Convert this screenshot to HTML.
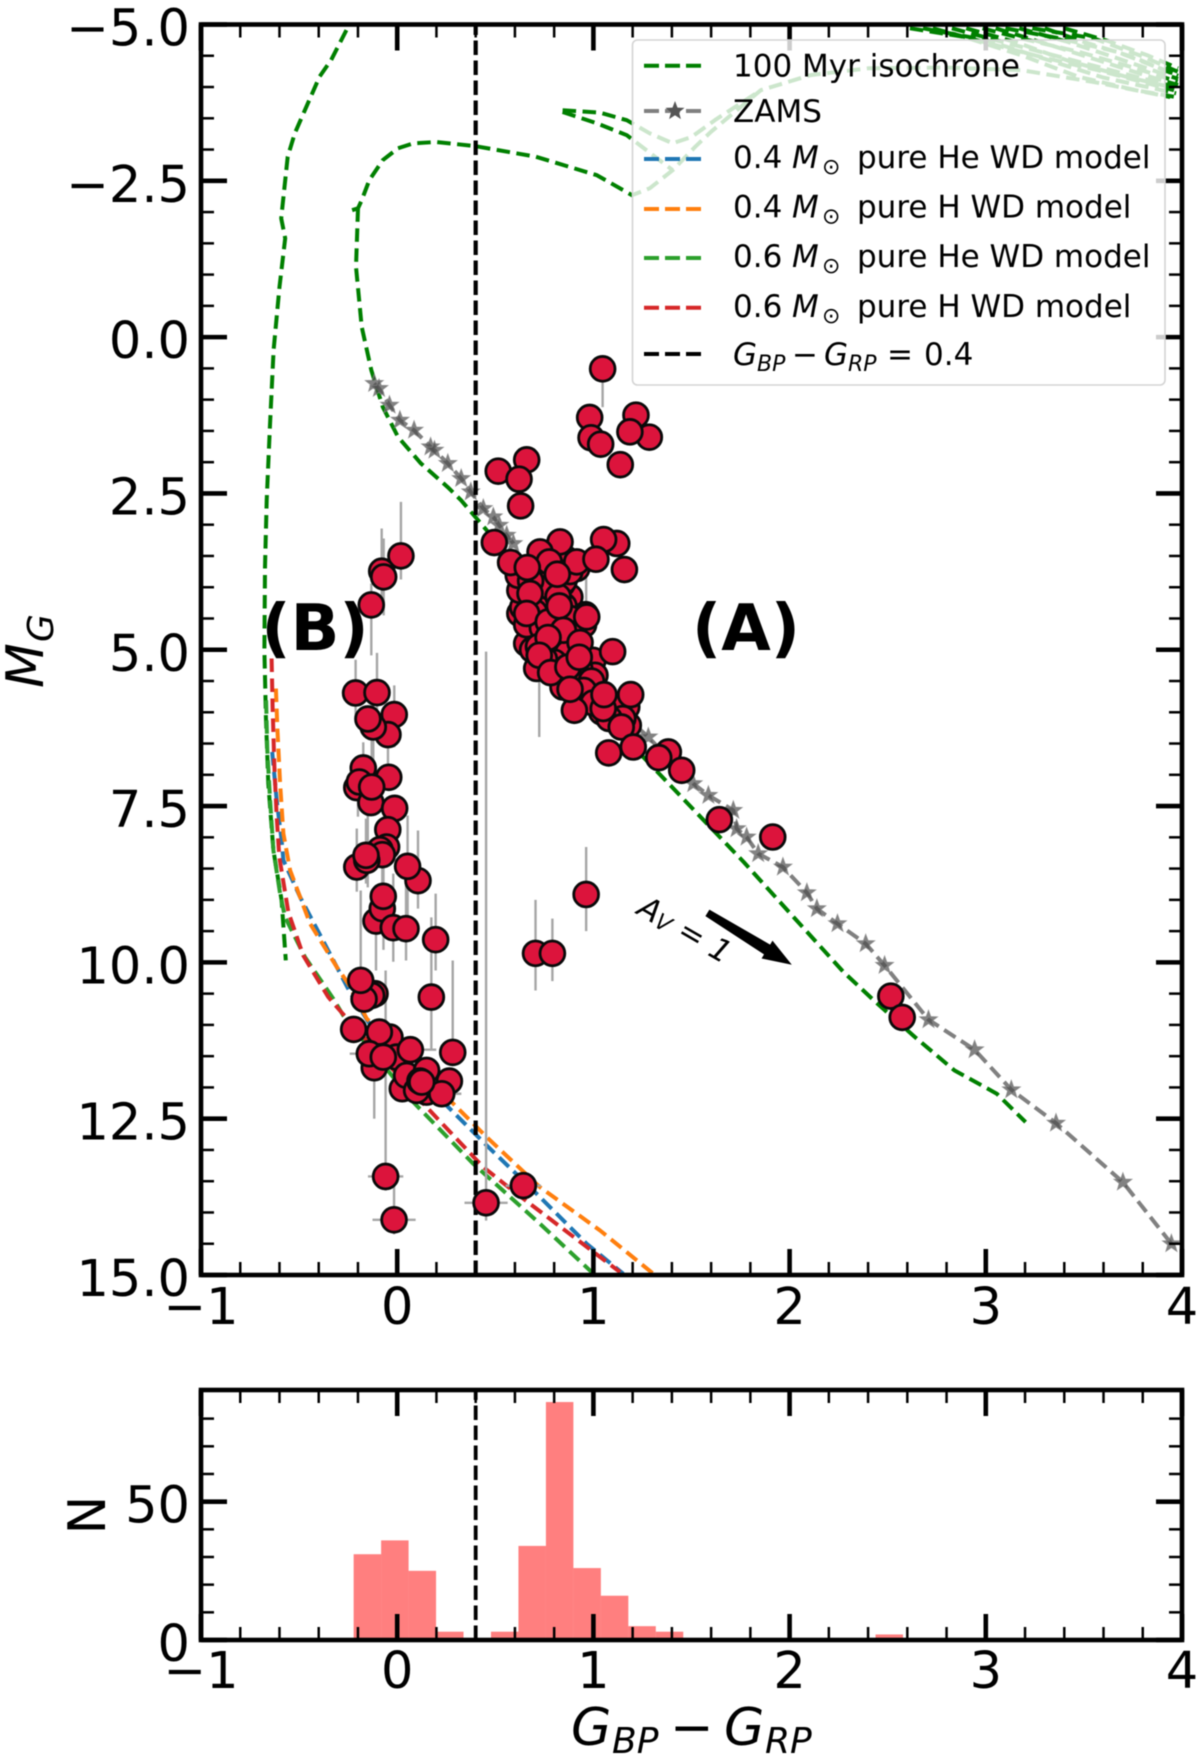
<!DOCTYPE html>
<html lang="en">
<head>
<meta charset="utf-8">
<title>Colour-magnitude diagram</title>
<style>
html,body{margin:0;padding:0;background:#fff;}
svg{display:block;filter:blur(0.6px);font-family:"DejaVu Sans","Liberation Sans",sans-serif;}
.obl{font-style:italic;}
</style>
</head>
<body>
<svg id="chart" xmlns="http://www.w3.org/2000/svg" width="1200" height="1764" viewBox="0 0 1200 1764">
  <defs>
    <clipPath id="main-clip"><rect x="201" y="24.5" width="981" height="1250.5"/></clipPath>
    <clipPath id="hist-clip"><rect x="201" y="1390" width="981" height="250"/></clipPath>
  </defs>
  <rect x="0" y="0" width="1200" height="1764" fill="#fff"/>
  <g id="main-lines" clip-path="url(#main-clip)"></g>
  <g id="main-errors" clip-path="url(#main-clip)"></g>
  <g id="main-points" clip-path="url(#main-clip)"></g>
  <g id="main-axes"></g>
  <g id="hist-bars" clip-path="url(#hist-clip)"></g>
  <g id="hist-axes"></g>

  <text x="746" y="650" font-size="64" font-weight="bold" text-anchor="middle">(A)</text>
  <text x="315" y="650" font-size="64" font-weight="bold" text-anchor="middle">(B)</text>
  <polygon id="av-arrow" fill="#000"/>
  <text transform="translate(684,931) rotate(30)" font-size="31" text-anchor="middle" dominant-baseline="middle"><tspan class="obl">A</tspan><tspan class="obl" font-size="22" dy="5">V</tspan><tspan dy="-5"> = </tspan><tspan class="obl">1</tspan></text>

  <text transform="translate(43,688) rotate(-90)" font-size="52"><tspan class="obl">M</tspan><tspan class="obl" font-size="36" x="46" dy="10">G</tspan></text>
  <text transform="translate(105,1515) rotate(-90)" font-size="52" text-anchor="middle">N</text>
  <text y="1745" font-size="52"><tspan class="obl" x="571">G</tspan><tspan class="obl" font-size="36" x="612" dy="8">BP</tspan><tspan x="670" dy="-8">−</tspan><tspan class="obl" x="724">G</tspan><tspan class="obl" font-size="36" x="765" dy="8">RP</tspan></text>

  <g>
    <rect x="632.5" y="40" width="532.5" height="345" rx="5" ry="5" fill="#fff" fill-opacity="0.8" stroke="#d4d4d4" stroke-width="1.6"/>
    <g>
      <line x1="644" x2="707" y1="65.7" y2="65.7" stroke="#008000" stroke-width="4" stroke-dasharray="15 6"/>
      <text x="733" y="76.5" font-size="31">100 Myr isochrone</text>
    </g>
    <g>
      <line x1="644" x2="707" y1="111" y2="111" stroke="#808080" stroke-width="4" stroke-dasharray="15 6"/>
      <polygon id="legend-star" fill="#555"/>
      <text x="733" y="122" font-size="31">ZAMS</text>
    </g>
    <g>
      <line x1="644" x2="707" y1="159" y2="159" stroke="#1f77b4" stroke-width="4" stroke-dasharray="15 6"/>
      <text y="168" font-size="31"><tspan x="733">0.4</tspan><tspan class="obl" x="792">M</tspan><tspan font-size="22" x="822" dy="6">⊙</tspan><tspan x="857" dy="-6">pure He WD model</tspan></text>
    </g>
    <g>
      <line x1="644" x2="707" y1="209" y2="209" stroke="#ff7f0e" stroke-width="4" stroke-dasharray="15 6"/>
      <text y="217.5" font-size="31"><tspan x="733">0.4</tspan><tspan class="obl" x="792">M</tspan><tspan font-size="22" x="822" dy="6">⊙</tspan><tspan x="857" dy="-6">pure H WD model</tspan></text>
    </g>
    <g>
      <line x1="644" x2="707" y1="258" y2="258" stroke="#2ca02c" stroke-width="4" stroke-dasharray="15 6"/>
      <text y="267" font-size="31"><tspan x="733">0.6</tspan><tspan class="obl" x="792">M</tspan><tspan font-size="22" x="822" dy="6">⊙</tspan><tspan x="857" dy="-6">pure He WD model</tspan></text>
    </g>
    <g>
      <line x1="644" x2="707" y1="307.7" y2="307.7" stroke="#d62728" stroke-width="4" stroke-dasharray="15 6"/>
      <text y="317" font-size="31"><tspan x="733">0.6</tspan><tspan class="obl" x="792">M</tspan><tspan font-size="22" x="822" dy="6">⊙</tspan><tspan x="857" dy="-6">pure H WD model</tspan></text>
    </g>
    <g>
      <line x1="644" x2="707" y1="354" y2="354" stroke="#000" stroke-width="4" stroke-dasharray="15 6"/>
      <text y="365" font-size="31"><tspan class="obl" x="733">G</tspan><tspan class="obl" font-size="22" x="757" dy="6">BP</tspan><tspan x="792" dy="-6">−</tspan><tspan class="obl" x="824">G</tspan><tspan class="obl" font-size="22" x="848" dy="6">RP</tspan><tspan x="887" dy="-6">=</tspan><tspan x="924">0.4</tspan></text>
    </g>
  </g>
</svg>
<script>
// ---------- axis tick data ----------
const xTicks = [-1, 0, 1, 2, 3, 4];
const xTickLabels = ['−1', '0', '1', '2', '3', '4'];
const xMinorTicks = [-0.8,-0.6,-0.4,-0.2,0.2,0.4,0.6,0.8,1.2,1.4,1.6,1.8,2.2,2.4,2.6,2.8,3.2,3.4,3.6,3.8];
const yTicks = [-5, -2.5, 0, 2.5, 5, 7.5, 10, 12.5, 15];
const yTickLabels = ['−5.0', '−2.5', '0.0', '2.5', '5.0', '7.5', '10.0', '12.5', '15.0'];
const yMinorTicks = [-4.5,-4,-3.5,-3,-2,-1.5,-1,-0.5,0.5,1,1.5,2,3,3.5,4,4.5,5.5,6,6.5,7,8,8.5,9,9.5,10.5,11,11.5,12,13,13.5,14,14.5];
const histYTicks = [0, 50];
const histYTickLabels = ['0', '50'];
const histYMinorTicks = [10, 20, 30, 40, 60, 70, 80];

// ---------- histogram data ----------
const histBinStarts = [-0.222,-0.082,0.058,0.198,0.338,0.478,0.618,0.758,0.898,1.038,1.178,1.318,2.438];
const histBinWidth = 0.14;
const histCounts = [31,36,25,3,0,3,34,86,26,16,5,3,2];

// ---------- colour cut ----------
const colourCut = 0.4;

// ---------- isochrone (100 Myr) pieces ----------
const isoLeftBranch = [[-0.259,-4.91],[-0.337,-4.43],[-0.396,-4.165],[-0.522,-3.26],[-0.558,-2.885],[-0.591,-1.9],[-0.571,-1.58],[-0.6,-0.805],[-0.63,0.208],[-0.649,1.435],[-0.665,2.608],[-0.674,3.675],[-0.677,5.008],[-0.669,6.075],[-0.657,7.14],[-0.631,8.208],[-0.589,9.008],[-0.568,9.968]];
const isoGiantBranch = [[-0.23,-2.03],[-0.2,-2.06],[-0.181,-2.19],[-0.142,-2.51],[-0.074,-2.83],[0.004,-3.02],[0.082,-3.1],[0.199,-3.12],[0.394,-3.056],[0.706,-2.885],[1.018,-2.59],[1.197,-2.27],[1.287,-2.38],[1.404,-2.67],[1.521,-3.05],[1.6,-3.285],[1.853,-3.95],[2.107,-4.19],[2.4,-4.3],[2.8,-4.31],[3.18,-4.27],[3.55,-4.08],[3.94,-3.84]];
const isoMainSequence = [[-0.2,-2.06],[-0.21,-1.125],[-0.181,-0.165],[-0.132,0.528],[-0.074,1.115],[0.004,1.595],[0.121,2.02],[0.258,2.4],[0.325,2.608],[0.456,3.09],[0.6,3.7],[0.75,4.5],[0.9,5.3],[1.05,6.0],[1.254,6.715],[1.766,8.395],[2.02,9.275],[2.275,10.155],[2.439,10.635],[2.639,11.195],[2.84,11.728],[3.056,12.1],[3.203,12.555]];
const isoHookUpper = [[0.843,-3.63],[1.034,-3.59],[1.17,-3.47],[1.287,-3.26],[1.404,-3.1],[1.5,-3.2],[1.619,-3.47],[1.853,-3.95]];
const isoHookLower = [[0.843,-3.6],[1.018,-3.42],[1.17,-3.23],[1.287,-2.95],[1.404,-2.67]];
const isoBundle1 = [[2.613,-4.94],[2.886,-4.805],[3.179,-4.51],[3.471,-4.165],[3.764,-3.95],[3.959,-3.845]];
const isoBundle2 = [[2.73,-4.94],[2.983,-4.725],[3.276,-4.485],[3.569,-4.27],[3.959,-3.95]];
const isoBundle3 = [[2.827,-4.94],[3.081,-4.725],[3.374,-4.485],[3.666,-4.245],[3.959,-4.005]];
const isoBundle4 = [[2.983,-4.94],[3.217,-4.75],[3.471,-4.565],[3.764,-4.3],[3.978,-4.085]];
const isoBundle5 = [[3.1,-4.94],[3.374,-4.78],[3.666,-4.565],[3.978,-4.19]];
const isoBundle6 = [[3.237,-4.94],[3.549,-4.78],[3.803,-4.485],[3.978,-4.245]];
const isoBundle7 = [[2.68,-4.94],[3.0,-4.75],[3.3,-4.45],[3.6,-4.15],[3.97,-3.9]];
const isoBundle8 = [[2.9,-4.94],[3.15,-4.72],[3.42,-4.42],[3.72,-4.16],[3.97,-3.98]];
const isoBundle9 = [[3.05,-4.94],[3.3,-4.7],[3.55,-4.45],[3.8,-4.2],[3.98,-4.03]];
const isoBundle10 = [[3.17,-4.94],[3.42,-4.72],[3.68,-4.45],[3.98,-4.13]];
const isoBundle11 = [[3.3,-4.94],[3.5,-4.72],[3.75,-4.48],[3.98,-4.18]];
const isoBundle12 = [[3.4,-4.94],[3.62,-4.74],[3.83,-4.5],[3.98,-4.3]];

// ---------- white-dwarf cooling models ----------
const wd06H = [[-0.64,5.14],[-0.635,5.915],[-0.626,6.875],[-0.614,7.675],[-0.601,8.315],[-0.555,9.195],[-0.479,9.888],[-0.351,10.555],[-0.292,10.77],[0.15,12.315],[0.439,13.275],[0.609,13.7],[1.136,14.955]];
const wd06He = [[-0.668,5.808],[-0.662,6.608],[-0.648,7.408],[-0.631,8.208],[-0.597,8.901],[-0.572,9.275],[-0.47,9.915],[-0.326,10.58],[-0.275,10.848],[0.082,12.235],[0.388,13.221],[0.728,14.181],[1.0,14.98]];
const wd04H = [[-0.618,5.621],[-0.611,6.235],[-0.597,7.141],[-0.58,7.941],[-0.546,8.528],[-0.444,9.381],[-0.308,10.075],[-0.249,10.341],[-0.155,10.901],[0.286,12.261],[0.456,12.795],[0.728,13.595],[1.034,14.288],[1.305,14.98]];
const wd04He = [[-0.637,6.635],[-0.614,7.408],[-0.589,8.048],[-0.58,8.368],[-0.495,8.955],[-0.343,9.861],[-0.241,10.475],[-0.147,10.955],[0.26,12.315],[0.456,12.928],[0.694,13.648],[0.966,14.501],[1.152,14.98]];

// ---------- ZAMS ----------
const zamsPoints = [[-0.117,0.741],[-0.093,0.821],[-0.039,1.088],[0.014,1.328],[0.086,1.488],[0.17,1.755],[0.19,1.808],[0.258,2.02],[0.326,2.261],[0.375,2.475],[0.439,2.741],[0.49,2.875],[0.52,3.008],[0.558,3.168],[0.592,3.301],[0.7,4.3],[0.85,5.0],[1.017,5.78],[1.14,6.0],[1.28,6.395],[1.509,7.141],[1.586,7.328],[1.713,7.568],[1.73,7.861],[1.781,7.995],[1.84,8.261],[1.966,8.475],[2.088,8.886],[2.139,9.141],[2.244,9.381],[2.388,9.701],[2.484,10.048],[2.708,10.917],[2.943,11.397],[3.13,12.037],[3.358,12.571],[3.699,13.515],[3.946,14.5]];

// ---------- error bars: [x, yTop, yBottom] ----------
const verticalErrors = [[1.047,0.507,1.12],[0.963,3.4,4.25],[0.724,4.2,6.395],[0.963,8.155,9.5],[0.705,9.0,10.45],[0.791,9.3,10.3],[0.019,2.635,3.877],[-0.079,3.06,4.4],[-0.069,3.22,4.45],[-0.132,3.94,5.09],[-0.212,5.16,6.07],[-0.103,5.05,6.34],[-0.015,5.57,6.56],[-0.047,6.02,6.82],[-0.122,5.8,7.0],[-0.173,6.48,7.3],[-0.13,6.45,7.57],[-0.2,6.8,7.67],[-0.206,7.86,8.87],[-0.159,7.7,8.74],[-0.15,7.65,8.8],[-0.076,8.0,8.9],[-0.02,8.58,9.99],[0.045,8.63,9.97],[0.053,7.65,9.3],[0.106,7.89,9.14],[-0.186,8.85,10.29],[-0.108,9.27,10.13],[0.196,8.9,10.13],[0.174,9.28,11.41],[0.283,9.97,11.44],[-0.059,10.13,13.65],[-0.117,11.68,12.5],[-0.016,13.42,14.35],[0.453,5.03,14.13],[-0.07,8.2,9.8]];
// horizontal errors: [x, y, xErr]
const horizontalErrors = [[-0.059,13.424,0.09],[-0.016,14.117,0.11],[0.453,13.845,0.11],[0.643,13.571,0.09],[-0.142,11.461,0.1],[0.099,11.397,0.1],[0.227,12.101,0.1]];

// ---------- points ----------
const clusterFill = [[0.625,4.42],[0.64,4.32],[0.625,4.05],[0.617,3.81],[0.88,4.155],[0.676,4.82],[0.813,5.06],[0.998,5.168],[0.947,5.488],[0.845,5.595],[1.008,5.408],[0.966,5.755],[1.042,5.995],[1.17,5.915],[1.178,6.208],[0.915,3.7],[0.84,3.95],[0.74,3.95],[0.8,4.6],[0.72,4.7],[0.66,4.9],[0.95,4.6],[0.69,5.0],[0.78,3.7],[0.86,3.55],[0.96,4.44],[0.73,3.75],[0.7,4.2],[0.75,4.3],[0.85,3.9],[0.78,4.0],[0.88,3.75],[0.85,4.3],[0.7,4.4],[0.82,4.5],[0.66,4.6],[0.74,4.65],[0.88,4.5],[0.9,4.75],[0.8,4.9],[0.72,4.95],[0.87,5.05],[0.8,5.2],[0.93,5.3],[0.88,5.45],[0.99,5.5],[0.95,5.65],[1.0,5.85],[1.1,5.9],[1.15,6.1],[1.08,6.1],[0.82,4.15],[0.75,5.15],[0.68,3.9]];
const clusterA = [[0.495,3.285],[0.83,3.275],[1.119,3.30],[1.052,3.237],[0.728,3.435],[0.915,3.595],[1.013,3.552],[1.158,3.717],[0.578,3.605],[0.775,3.595],[0.663,3.685],[0.816,3.792],[0.677,4.1],[0.966,4.475],[0.66,4.42],[0.77,4.555],[0.826,4.3],[0.847,4.688],[0.769,4.805],[0.932,4.885],[1.098,5.03],[0.711,5.30],[0.724,5.088],[0.782,5.365],[0.87,5.275],[0.928,5.12],[0.903,5.968],[0.881,5.632],[1.05,5.94],[1.19,5.717],[1.054,5.717],[1.142,6.235],[1.203,6.555],[1.078,6.65],[1.382,6.635],[1.333,6.725],[1.45,6.928],[1.642,7.717],[1.914,7.995]];
const giantPoints = [[1.047,0.507],[0.981,1.285],[1.217,1.248],[1.285,1.6],[1.186,1.515],[0.988,1.61],[1.037,1.712],[1.137,2.04],[0.515,2.144],[0.66,1.963],[0.621,2.272],[0.629,2.699]];
const isolatedPoints = [[0.963,8.914],[0.705,9.856],[0.791,9.856],[2.516,10.54],[2.574,10.88]];
const clusterB = [[0.019,3.499],[-0.079,3.744],[-0.069,3.835],[-0.132,4.283],[-0.212,5.691],[-0.103,5.685],[-0.015,6.037],[-0.047,6.357],[-0.122,6.235],[-0.149,6.107],[-0.173,6.891],[-0.043,7.04],[-0.206,7.205],[-0.193,7.115],[-0.134,7.445],[-0.13,7.195],[-0.013,7.536],[-0.048,7.877],[-0.054,8.155],[-0.088,8.197],[-0.076,8.277],[-0.206,8.475],[-0.155,8.368],[-0.159,8.288],[0.106,8.693],[0.053,8.464],[-0.108,9.339],[-0.076,9.141],[-0.071,8.944],[-0.02,9.445],[0.045,9.461],[0.196,9.637],[-0.113,10.501],[-0.13,10.528],[-0.169,10.587],[-0.186,10.288],[0.174,10.555]];
const coolPoints = [[-0.222,11.072],[-0.117,11.685],[-0.037,11.195],[-0.091,11.115],[-0.003,11.515],[-0.142,11.461],[-0.071,11.515],[0.067,11.397],[0.283,11.44],[0.026,12.021],[0.048,11.808],[0.15,11.728],[0.15,12.075],[0.266,11.899],[0.227,12.101],[0.099,12.048],[0.116,11.899],[0.125,11.915],[-0.059,13.424],[-0.016,14.117],[0.453,13.845],[0.643,13.571]];

// ---------- extinction arrow endpoints ----------
const avArrowTail = [1.581,9.208];
const avArrowTip = [2.011,10.037];

// ---------- axis functions ----------
const AX_LEFT = 201, AX_RIGHT = 1182, MAIN_TOP = 24.5, MAIN_BOTTOM = 1275, HIST_TOP = 1390, HIST_BOTTOM = 1640;
const sx = v => AX_LEFT + (v + 1) * (AX_RIGHT - AX_LEFT) / 5;
const sy = v => MAIN_TOP + (v + 5) * (MAIN_BOTTOM - MAIN_TOP) / 20;
const hy = v => HIST_BOTTOM - v * 2.767;
const NS = 'http://www.w3.org/2000/svg';
function mk(parent, tag, attrs) {
  const el = document.createElementNS(NS, tag);
  for (const k in attrs) el.setAttribute(k, attrs[k]);
  parent.appendChild(el);
  return el;
}
const linesG = document.getElementById('main-lines');
const errG = document.getElementById('main-errors');
const ptsG = document.getElementById('main-points');
const axesG = document.getElementById('main-axes');
const barsG = document.getElementById('hist-bars');
const hAxesG = document.getElementById('hist-axes');

function drawCurve(pts, color, name) {
  const d = pts.map(p => sx(p[0]).toFixed(1) + ',' + sy(p[1]).toFixed(1)).join(' ');
  const el = mk(linesG, 'polyline', {points: d, fill: 'none', stroke: color, 'stroke-width': 4, 'stroke-dasharray': '13.5 6.5', 'stroke-linejoin': 'round'});
  
  
}
function starPoints(cx, cy, R, r) {
  const out = [];
  for (let i = 0; i < 10; i++) {
    const a = -Math.PI / 2 + i * Math.PI / 5;
    const rad = i % 2 ? r : R;
    out.push((cx + rad * Math.cos(a)).toFixed(1) + ',' + (cy + rad * Math.sin(a)).toFixed(1));
  }
  return out.join(' ');
}

// Isochrone pieces
drawCurve(isoLeftBranch, '#008000', 'isochrone-left-branch');
drawCurve(isoGiantBranch, '#008000', 'isochrone-giant-branch');
drawCurve(isoMainSequence, '#008000', 'isochrone-main-sequence');
drawCurve(isoHookUpper, '#008000', 'isochrone-hook-upper');
drawCurve(isoHookLower, '#008000', 'isochrone-hook-lower');
drawCurve(isoBundle1, '#008000', 'isochrone-bundle-1');
drawCurve(isoBundle2, '#008000', 'isochrone-bundle-2');
drawCurve(isoBundle3, '#008000', 'isochrone-bundle-3');
drawCurve(isoBundle4, '#008000', 'isochrone-bundle-4');
drawCurve(isoBundle5, '#008000', 'isochrone-bundle-5');
drawCurve(isoBundle6, '#008000', 'isochrone-bundle-6');
drawCurve(isoBundle7, '#008000', 'isochrone-bundle-7');
drawCurve(isoBundle8, '#008000', 'isochrone-bundle-8');
drawCurve(isoBundle9, '#008000', 'isochrone-bundle-9');
drawCurve(isoBundle10, '#008000', 'isochrone-bundle-10');
drawCurve(isoBundle11, '#008000', 'isochrone-bundle-11');
drawCurve(isoBundle12, '#008000', 'isochrone-bundle-12');
// WD models
drawCurve(wd04He, '#1f77b4', 'wd-04-he-curve');
drawCurve(wd04H, '#ff7f0e', 'wd-04-h-curve');
drawCurve(wd06He, '#2ca02c', 'wd-06-he-curve');
drawCurve(wd06H, '#d62728', 'wd-06-h-curve');
// ZAMS
drawCurve(zamsPoints, '#808080', 'zams-curve');
zamsPoints.forEach(p => {
  const st = mk(linesG, 'polygon', {points: starPoints(sx(p[0]), sy(p[1]), 9.2, 3.8), fill: '#4d4d4d', 'fill-opacity': 0.7, stroke: '#808080', 'stroke-width': 1, 'stroke-opacity': 0.8});
  
  
});
document.getElementById('legend-star').setAttribute('points', starPoints(675, 111, 10, 4.2));

// Colour cut line (main)
const cutMain = mk(linesG, 'line', {x1: sx(colourCut), x2: sx(colourCut), y1: MAIN_BOTTOM, y2: MAIN_TOP, stroke: '#000', 'stroke-width': 4.2, 'stroke-dasharray': '14.5 5.5'});



// Error bars
verticalErrors.forEach(e => {
  const l = mk(errG, 'line', {x1: sx(e[0]), x2: sx(e[0]), y1: sy(e[1]), y2: sy(e[2]), stroke: '#a6a6a6', 'stroke-width': 2.4});
  
  
});
horizontalErrors.forEach(e => {
  const l = mk(errG, 'line', {x1: sx(e[0] - e[2]), x2: sx(e[0] + e[2]), y1: sy(e[1]), y2: sy(e[1]), stroke: '#a6a6a6', 'stroke-width': 2.4});
  
  
});

// Points
function drawPoints(list, name) {
  list.forEach(p => {
    const c = mk(ptsG, 'circle', {cx: sx(p[0]), cy: sy(p[1]), r: 12.4, fill: '#dc143c', stroke: '#0a0a0a', 'stroke-width': 2.8});
    
    
  });
}
drawPoints(clusterFill, 'group-a-point');
drawPoints(clusterA, 'group-a-point');
drawPoints(giantPoints, 'giant-point');
drawPoints(isolatedPoints, 'isolated-point');
drawPoints(clusterB, 'group-b-point');
drawPoints(coolPoints, 'cool-wd-point');

// Arrow
(function () {
  const x0 = sx(avArrowTail[0]), y0 = sy(avArrowTail[1]), x1 = sx(avArrowTip[0]), y1 = sy(avArrowTip[1]);
  const len = Math.hypot(x1 - x0, y1 - y0), ux = (x1 - x0) / len, uy = (y1 - y0) / len, nx = -uy, ny = ux;
  const bx = x1 - ux * 29, by = y1 - uy * 29;
  const poly = [
    [x0 + nx * 3.8, y0 + ny * 3.8], [bx + nx * 5.8, by + ny * 5.8], [bx + nx * 10.5, by + ny * 10.5],
    [x1, y1], [bx - nx * 10.5, by - ny * 10.5], [bx - nx * 5.8, by - ny * 5.8], [x0 - nx * 3.8, y0 - ny * 3.8]
  ];
  document.getElementById('av-arrow').setAttribute('points', poly.map(p => p[0].toFixed(1) + ',' + p[1].toFixed(1)).join(' '));
})();

// Generic tick helper
function tick(parent, x1, y1, x2, y2, w, name) {
  const t = mk(parent, 'line', {x1: x1, y1: y1, x2: x2, y2: y2, stroke: '#000', 'stroke-width': w});
  
  
}
const MAJ = 26, MIN = 13, MAJW = 4.6, MINW = 2.5;

// Main panel ticks
xTicks.forEach((v, i) => {
  tick(axesG, sx(v), MAIN_BOTTOM, sx(v), MAIN_BOTTOM - MAJ, MAJW, 'x-major-tick');
  tick(axesG, sx(v), MAIN_TOP, sx(v), MAIN_TOP + MAJ, MAJW, 'x-major-tick-top');
  const t = mk(axesG, 'text', {x: sx(v), y: 1324, 'font-size': 51, 'text-anchor': 'middle'});
  t.textContent = xTickLabels[i];
  
  
});
xMinorTicks.forEach(v => {
  tick(axesG, sx(v), MAIN_BOTTOM, sx(v), MAIN_BOTTOM - MIN, MINW, 'x-minor-tick');
  tick(axesG, sx(v), MAIN_TOP, sx(v), MAIN_TOP + MIN, MINW, 'x-minor-tick-top');
});
yTicks.forEach((v, i) => {
  tick(axesG, AX_LEFT, sy(v), AX_LEFT + MAJ, sy(v), MAJW, 'y-major-tick');
  tick(axesG, AX_RIGHT, sy(v), AX_RIGHT - MAJ, sy(v), MAJW, 'y-major-tick-right');
  const t = mk(axesG, 'text', {x: 190, y: sy(v) + 21, 'font-size': 51, 'text-anchor': 'end'});
  t.textContent = yTickLabels[i];
  
  
});
yMinorTicks.forEach(v => {
  tick(axesG, AX_LEFT, sy(v), AX_LEFT + MIN, sy(v), MINW, 'y-minor-tick');
  tick(axesG, AX_RIGHT, sy(v), AX_RIGHT - MIN, sy(v), MINW, 'y-minor-tick-right');
});
const mainFrame = mk(axesG, 'rect', {x: AX_LEFT, y: MAIN_TOP, width: AX_RIGHT - AX_LEFT, height: MAIN_BOTTOM - MAIN_TOP, fill: 'none', stroke: '#000', 'stroke-width': 4.6});



// Histogram bars
histBinStarts.forEach((b, i) => {
  const top = hy(histCounts[i]);
  const bar = mk(barsG, 'rect', {x: sx(b), y: top, width: sx(b + histBinWidth) - sx(b), height: HIST_BOTTOM - top, fill: '#ff0000', 'fill-opacity': 0.5});
  
  
});
const cutHist = mk(barsG, 'line', {x1: sx(colourCut), x2: sx(colourCut), y1: HIST_BOTTOM, y2: HIST_TOP, stroke: '#000', 'stroke-width': 3.8, 'stroke-dasharray': '14.5 5.5'});



// Histogram ticks
xTicks.forEach((v, i) => {
  tick(hAxesG, sx(v), HIST_BOTTOM, sx(v), HIST_BOTTOM - MAJ, MAJW, 'hist-x-major-tick');
  tick(hAxesG, sx(v), HIST_TOP, sx(v), HIST_TOP + MAJ, MAJW, 'hist-x-major-tick-top');
  const t = mk(hAxesG, 'text', {x: sx(v), y: 1688, 'font-size': 51, 'text-anchor': 'middle'});
  t.textContent = xTickLabels[i];
  
  
});
xMinorTicks.forEach(v => {
  tick(hAxesG, sx(v), HIST_BOTTOM, sx(v), HIST_BOTTOM - MIN, MINW, 'hist-x-minor-tick');
  tick(hAxesG, sx(v), HIST_TOP, sx(v), HIST_TOP + MIN, MINW, 'hist-x-minor-tick-top');
});
histYTicks.forEach((v, i) => {
  tick(hAxesG, AX_LEFT, hy(v), AX_LEFT + MAJ, hy(v), MAJW, 'hist-y-major-tick');
  tick(hAxesG, AX_RIGHT, hy(v), AX_RIGHT - MAJ, hy(v), MAJW, 'hist-y-major-tick-right');
  const t = mk(hAxesG, 'text', {x: 190, y: hy(v) + 21, 'font-size': 51, 'text-anchor': 'end'});
  t.textContent = histYTickLabels[i];
  
  
});
histYMinorTicks.forEach(v => {
  tick(hAxesG, AX_LEFT, hy(v), AX_LEFT + MIN, hy(v), MINW, 'hist-y-minor-tick');
  tick(hAxesG, AX_RIGHT, hy(v), AX_RIGHT - MIN, hy(v), MINW, 'hist-y-minor-tick-right');
});
const histFrame = mk(hAxesG, 'rect', {x: AX_LEFT, y: HIST_TOP, width: AX_RIGHT - AX_LEFT, height: HIST_BOTTOM - HIST_TOP, fill: 'none', stroke: '#000', 'stroke-width': 4.6});


</script>
</body>
</html>
